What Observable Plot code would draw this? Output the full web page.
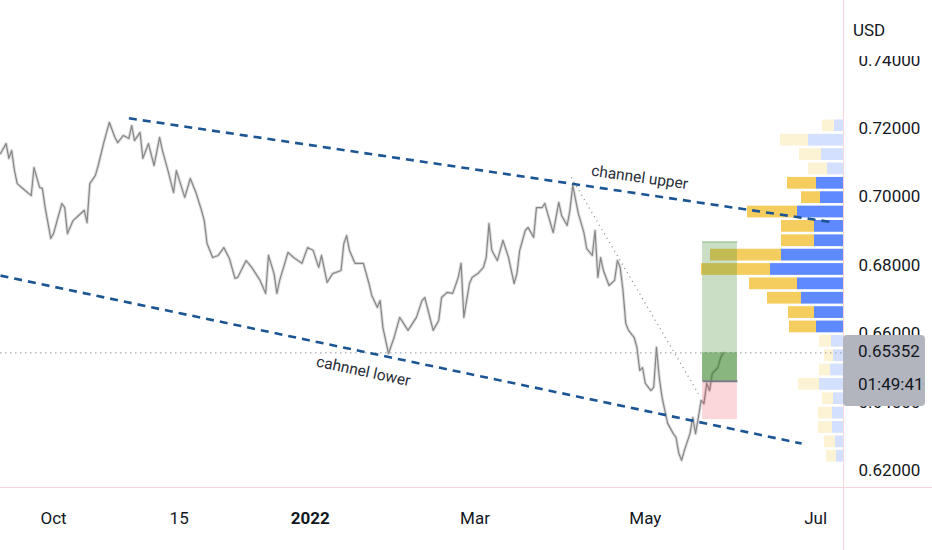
<!DOCTYPE html>
<html>
<head>
<meta charset="utf-8">
<script src="https://cdn.jsdelivr.net/npm/d3@7"></script>
<script src="https://cdn.jsdelivr.net/npm/@observablehq/plot@0.6"></script>
<style>
  html, body { margin: 0; padding: 0; background: #fff; }
  #wrap { position: relative; width: 932px; height: 550px; overflow: hidden; font-family: Roboto, "Noto Sans", sans-serif; }
  #wrap svg { position: absolute; left: 0; top: 0; }
  .line-v { position: absolute; left: 843px; top: 0; width: 1px; height: 550px; background: #f6d6da; }
  .line-h { position: absolute; left: 0; top: 487px; width: 932px; height: 1px; background: #f6d6da; }
  #usd { position: absolute; left: 845px; top: 0; width: 87px; height: 56px; background: #fff; color: #131722; font-size: 17px; }
  #usd span { position: absolute; left: 8px; top: 20px; }
  #tag { position: absolute; left: 843px; width: 82px; height: 71px; background: #b2b5be; border-radius: 4px; color: #131722; font-size: 17px; line-height: 33px; padding-left: 15px; box-sizing: border-box; }
</style>
</head>
<body>
<div id="wrap"></div>
<script>
// ---- price series (approximate closes) ----
const dates = [
"2021-09-12","2021-09-14","2021-09-15","2021-09-16","2021-09-17","2021-09-18","2021-09-20","2021-09-23","2021-09-24","2021-09-26",
"2021-09-27","2021-09-28","2021-09-30","2021-10-01","2021-10-03","2021-10-04","2021-10-05","2021-10-06","2021-10-08","2021-10-10",
"2021-10-12","2021-10-13","2021-10-14","2021-10-16","2021-10-17","2021-10-19","2021-10-20","2021-10-21","2021-10-23","2021-10-24",
"2021-10-26","2021-10-28","2021-10-29","2021-10-30","2021-11-01","2021-11-02","2021-11-04","2021-11-06","2021-11-08","2021-11-09",
"2021-11-11","2021-11-13","2021-11-14","2021-11-17","2021-11-19","2021-11-21","2021-11-23","2021-11-24","2021-11-25","2021-11-27",
"2021-11-29","2021-12-01","2021-12-03","2021-12-05","2021-12-06","2021-12-09","2021-12-11","2021-12-14","2021-12-16","2021-12-17",
"2021-12-19","2021-12-20","2021-12-21","2021-12-24","2021-12-26","2021-12-29","2021-12-31","2022-01-02","2022-01-04","2022-01-05",
"2022-01-07","2022-01-09","2022-01-12","2022-01-13","2022-01-14","2022-01-15","2022-01-17","2022-01-20","2022-01-22","2022-01-23",
"2022-01-25","2022-01-26","2022-01-27","2022-01-28","2022-01-29","2022-01-31","2022-02-02","2022-02-05","2022-02-08","2022-02-10",
"2022-02-11","2022-02-14","2022-02-16","2022-02-17","2022-02-19","2022-02-21","2022-02-23","2022-02-24","2022-02-25","2022-02-27",
"2022-02-28","2022-03-02","2022-03-04","2022-03-05","2022-03-06","2022-03-07","2022-03-09","2022-03-11","2022-03-13","2022-03-14",
"2022-03-15","2022-03-16","2022-03-17","2022-03-19","2022-03-20","2022-03-22","2022-03-23","2022-03-25","2022-03-26","2022-03-27",
"2022-03-29","2022-03-31","2022-04-01","2022-04-03","2022-04-04","2022-04-05","2022-04-07","2022-04-09","2022-04-10","2022-04-12",
"2022-04-13","2022-04-14","2022-04-15","2022-04-16","2022-04-18","2022-04-20","2022-04-21","2022-04-22","2022-04-23","2022-04-24",
"2022-04-25","2022-04-27","2022-04-28","2022-04-29","2022-04-30","2022-05-01","2022-05-03","2022-05-04","2022-05-05","2022-05-06",
"2022-05-07","2022-05-08","2022-05-09","2022-05-11","2022-05-12","2022-05-13","2022-05-14","2022-05-15","2022-05-17","2022-05-18",
"2022-05-19","2022-05-20","2022-05-21","2022-05-22","2022-05-23","2022-05-24","2022-05-25","2022-05-27","2022-05-28","2022-05-29"
];
const closes = [
0.7118,0.7147,0.7104,0.7127,0.7068,0.7030,0.7016,0.6995,0.7077,0.7019,
0.7016,0.6960,0.6870,0.6884,0.6943,0.6972,0.6960,0.6884,0.6922,0.6937,
0.6952,0.6916,0.7030,0.7054,0.7083,0.7150,0.7180,0.7209,0.7165,0.7150,
0.7171,0.7162,0.7200,0.7156,0.7180,0.7104,0.7147,0.7083,0.7165,0.7127,
0.7068,0.7004,0.7068,0.6990,0.7045,0.7004,0.6952,0.6922,0.6855,0.6814,
0.6820,0.6843,0.6811,0.6753,0.6756,0.6805,0.6785,0.6747,0.6709,0.6820,
0.6767,0.6709,0.6747,0.6829,0.6814,0.6797,0.6843,0.6835,0.6785,0.6820,
0.6741,0.6767,0.6776,0.6855,0.6878,0.6835,0.6797,0.6797,0.6738,0.6703,
0.6668,0.6688,0.6609,0.6571,0.6533,0.6580,0.6639,0.6601,0.6639,0.6688,
0.6697,0.6601,0.6630,0.6697,0.6712,0.6709,0.6756,0.6797,0.6639,0.6738,
0.6756,0.6767,0.6785,0.6814,0.6913,0.6835,0.6805,0.6864,0.6814,0.6776,
0.6738,0.6767,0.6835,0.6893,0.6902,0.6873,0.6960,0.6960,0.6972,0.6943,
0.6887,0.6975,0.6937,0.6908,0.6952,0.7025,0.6943,0.6887,0.6840,0.6820,
0.6893,0.6756,0.6814,0.6776,0.6732,0.6747,0.6805,0.6785,0.6718,0.6621,
0.6601,0.6580,0.6551,0.6484,0.6492,0.6446,0.6425,0.6434,0.6551,0.6463,
0.6405,0.6367,0.6329,0.6299,0.6288,0.6241,0.6221,0.6250,0.6299,0.6346,
0.6299,0.6346,0.6396,0.6387,0.6446,0.6425,0.6475,0.6492,0.6522,0.65352
];
const lastPrice = 0.65352;
const countdown = "01:49:41";

// ---- drawings ----
const channelUpper = {x1: "2021-10-28", y1: 0.7221, x2: "2022-07-08", y2: 0.6916};
const channelLower = {x1: "2021-09-12", y1: 0.6761, x2: "2022-06-26", y2: 0.6270};
const trendLine    = {x1: "2022-04-04T12:00Z", y1: 0.7048, x2: "2022-05-20", y2: 0.6416};
const position     = {start: "2022-05-21T12:00Z", end: "2022-06-03", target: 0.6859, entry: 0.6452, stop: 0.6340};
const labelTexts   = ["channel upper", "cahnnel lower"];
const labelDates   = ["2022-04-29", "2022-01-20"];
const labelPrices  = [0.7048, 0.6481];
const labelAngles  = [8, 12];

// ---- axes ----
const xTickDates  = ["2021-10-01", "2021-11-15", "2022-01-01", "2022-03-01", "2022-05-01", "2022-07-01"];
const xTickLabels = ["Oct", "15", "2022", "Mar", "May", "Jul"];
const yTicks = [0.62, 0.64, 0.66, 0.68, 0.70, 0.72, 0.74];
const xDomain = ["2021-09-12", "2022-07-11"];
const yDomain = [0.61415, 0.75655];

// ---- volume profile (rows of price levels; total and buy volume) ----
const vpLevels = [0.7199,0.7157,0.7115,0.7073,0.7031,0.6989,0.6947,0.6905,0.6863,0.6821,0.6779,0.6737,
                  0.6695,0.6653,0.6611,0.6569,0.6527,0.6485,0.6443,0.6401,0.6359,0.6317,0.6275,0.6233];
const vpTotal = [21,63,44,35,56,42,96,62,62,133,142,94,76,55,54,24,19,24,45,21,25,25,19,17];
const vpBuy   = [ 9,35,22,16,27,23,46,29,29, 62, 73,46,42,29,27,12,10,13,24,10,11,11, 8, 7];
const vaLow = 0.659, vaHigh = 0.705;
const vpHalf = 0.0021;

// ---- build ----
const candles = dates.map((d, i) => ({date: new Date(d), close: closes[i]}));
const toLink = o => ({x1: new Date(o.x1), y1: o.y1, x2: new Date(o.x2), y2: o.y2});
const pos = {...position, start: new Date(position.start), end: new Date(position.end)};
const labels = labelTexts.map((t, i) => ({text: t, date: new Date(labelDates[i]), price: labelPrices[i], angle: labelAngles[i]}));
const xTicks = xTickDates.map((d, i) => ({date: new Date(d), label: xTickLabels[i]}));
const vp = vpLevels.map((l, i) => ({level: l, total: vpTotal[i], buy: vpBuy[i], va: l > vaLow && l < vaHigh}));

const W = 932, H = 550, mR = 89, mB = 63;
const FONT = "Roboto, 'Noto Sans', sans-serif";

const vpChart = Plot.plot({
  width: W, height: H, marginLeft: 0, marginRight: mR, marginTop: 0, marginBottom: mB,
  style: {background: "transparent"},
  x: {domain: [843, 0], axis: null},
  y: {domain: yDomain, axis: null},
  color: {type: "identity"},
  marks: [
    Plot.rect(vp, {x1: 0, x2: d => d.buy, y1: d => d.level - vpHalf, y2: d => d.level + vpHalf,
      fill: d => d.va ? "rgba(41,98,255,0.75)" : "rgba(41,98,255,0.2)", insetTop: 1.3, insetBottom: 1.3}),
    Plot.rect(vp, {x1: d => d.buy, x2: d => d.total, y1: d => d.level - vpHalf, y2: d => d.level + vpHalf,
      fill: d => d.va ? "rgba(242,188,40,0.75)" : "rgba(242,188,40,0.2)", insetTop: 1.3, insetBottom: 1.3})
  ]
});

const chart = Plot.plot({
  width: W, height: H, marginLeft: 0, marginRight: mR, marginTop: 0, marginBottom: mB,
  style: {background: "transparent", fontFamily: FONT, fontSize: "17px"},
  x: {type: "utc", domain: xDomain.map(d => new Date(d)), axis: null},
  y: {domain: yDomain, axis: null},
  marks: [
    // current price line
    Plot.ruleY([lastPrice], {stroke: "#9598a1", strokeWidth: 1, strokeDasharray: "1.5,3.5"}),
    // price series
    Plot.line(candles, {x: "date", y: "close", stroke: "#c8c8c8", strokeWidth: 3.2, strokeOpacity: 0.6}),
    Plot.line(candles, {x: "date", y: "close", stroke: "#878787", strokeWidth: 1.2}),
    // dotted trend line
    Plot.link([toLink(trendLine)], {x1: "x1", y1: "y1", x2: "x2", y2: "y2", stroke: "#8a8a8a", strokeWidth: 1.3, strokeDasharray: "1,4"}),
    // long position tool
    Plot.rect([pos], {x1: "start", x2: "end", y1: "entry", y2: "target", fill: "rgb(76,145,60)", fillOpacity: 0.3}),
    Plot.rect([pos], {x1: "start", x2: "end", y1: "entry", y2: () => lastPrice, fill: "rgb(60,130,45)", fillOpacity: 0.45}),
    Plot.rect([pos], {x1: "start", x2: "end", y1: "stop", y2: "entry", fill: "rgb(242,54,69)", fillOpacity: 0.2}),
    Plot.link([pos], {x1: "start", x2: "end", y1: "target", y2: "target", stroke: "rgb(76,145,60)", strokeOpacity: 0.25, strokeWidth: 2}),
    Plot.link([pos], {x1: "start", x2: "end", y1: "entry", y2: "entry", stroke: "#787b86", strokeWidth: 2}),
    // channel
    Plot.link([toLink(channelUpper), toLink(channelLower)], {x1: "x1", y1: "y1", x2: "x2", y2: "y2",
      stroke: "#1b5593", strokeWidth: 2.6, strokeDasharray: "8,6"}),
    Plot.text(labels.slice(0, 1), {x: "date", y: "price", text: "text", rotate: labelAngles[0], fontSize: 15.5, fill: "#2a2e39", fontFamily: FONT}),
    Plot.text(labels.slice(1), {x: "date", y: "price", text: "text", rotate: labelAngles[1], fontSize: 15.5, fill: "#2a2e39", fontFamily: FONT}),
    // y axis labels
    Plot.text(yTicks, {y: d => d, frameAnchor: "right", dx: 15, dy: 3, textAnchor: "start", text: d => d.toFixed(5), fontSize: 17, fill: "#131722"}),
    // x axis labels
    Plot.text(xTicks.filter(d => d.label !== "2022"), {x: "date", frameAnchor: "bottom", dy: 36, text: "label", fontSize: 17, fill: "#131722"}),
    Plot.text(xTicks.filter(d => d.label === "2022"), {x: "date", frameAnchor: "bottom", dy: 36, text: "label", fontSize: 17, fontWeight: "bold", fill: "#131722"})
  ]
});

const wrap = document.getElementById("wrap");
const lv = document.createElement("div"); lv.className = "line-v"; wrap.appendChild(lv);
const lh = document.createElement("div"); lh.className = "line-h"; wrap.appendChild(lh);
wrap.appendChild(vpChart);
wrap.appendChild(chart);

const usd = document.createElement("div"); usd.id = "usd"; usd.innerHTML = "<span>USD</span>";
wrap.appendChild(usd);

const yS = chart.scale("y");
const tag = document.createElement("div"); tag.id = "tag";
tag.style.top = (yS.apply(lastPrice) - 17) + "px";
tag.innerHTML = lastPrice.toFixed(5) + "<br>" + countdown;
wrap.appendChild(tag);
</script>
</body>
</html>
